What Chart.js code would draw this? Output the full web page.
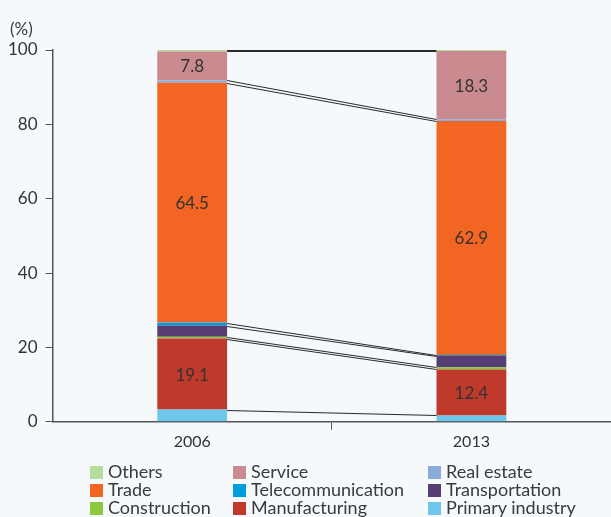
<!DOCTYPE html>
<html>
<head>
<meta charset="utf-8">
<script src="https://cdn.jsdelivr.net/npm/chart.js@4.4.1/dist/chart.umd.min.js"></script>
<style>
  html, body { margin: 0; padding: 0; background: #f5f9fc; }
  #wrap { position: relative; width: 611px; height: 517px; overflow: hidden; }
  #unit { position: absolute; left: 10px; top: 18px; font: 17px Lato, sans-serif; color: #3a3a3a; }
  .lg { position: absolute; font: 18px Lato, sans-serif; color: #3a3a3a; line-height: 18px; white-space: nowrap; }
  .lg span.sw { position: absolute; left: 0; top: 3px; width: 13px; height: 13px; }
  .lg span.tx { position: absolute; left: 18px; top: -1px; }
</style>
</head>
<body>
<div id="wrap">
  <canvas id="c" width="611" height="517"></canvas>
  <div id="unit">(%)</div>
</div>
<script>
// Share of employment by sector, 2006 vs 2013 (percent)
const years = ['2006', '2013'];
const sectors = ['Primary industry', 'Manufacturing', 'Construction', 'Transportation',
  'Telecommunication', 'Trade', 'Real estate', 'Service', 'Others'];
const primaryIndustry = [3.3, 1.7];
const manufacturing = [19.1, 12.4];
const construction = [0.5, 0.6];
const transportation = [3.0, 3.0];
const telecommunication = [0.8, 0.3];
const trade = [64.5, 62.9];
const realEstate = [0.6, 0.5];
const service = [7.8, 18.3];
const others = [0.4, 0.3];
const yTicks = [0, 20, 40, 60, 80, 100];

const seriesValues = [primaryIndustry, manufacturing, construction, transportation,
  telecommunication, trade, realEstate, service, others];
const colors = ['#6ec6ea', '#bf3a2b', '#8dc63f', '#563d74', '#009ddc',
  '#f26522', '#8aaad8', '#c98b8f', '#b7dd9c'];
const labelled = [false, true, false, false, false, true, false, true, false];

const datasets = sectors.map((name, i) => ({
  label: name,
  data: seriesValues[i],
  backgroundColor: colors[i],
  borderWidth: 0,
  barPercentage: 0.25,
  categoryPercentage: 1.0,
  stack: 's'
}));

// Thin connector lines joining every segment boundary from one bar to the next
const connectors = {
  id: 'connectors',
  afterDatasetsDraw(chart) {
    const ctx = chart.ctx;
    const y = chart.scales.y;
    const first = chart.getDatasetMeta(0).data;
    ctx.save();
    ctx.strokeStyle = '#2a2a2a';
    ctx.lineWidth = 1;
    for (let j = 0; j < years.length - 1; j++) {
      const x0 = first[j].x + first[j].width / 2;
      const x1 = first[j + 1].x - first[j + 1].width / 2;
      let c0 = 0, c1 = 0;
      for (let i = 0; i < seriesValues.length; i++) {
        c0 += seriesValues[i][j];
        c1 += seriesValues[i][j + 1];
        ctx.beginPath();
        ctx.moveTo(x0, Math.round(y.getPixelForValue(c0)) + 0.5);
        ctx.lineTo(x1, Math.round(y.getPixelForValue(c1)) + 0.5);
        ctx.stroke();
      }
    }
    ctx.restore();
  }
};

// Value labels inside the larger segments
const valueLabels = {
  id: 'valueLabels',
  afterDatasetsDraw(chart) {
    const ctx = chart.ctx;
    ctx.save();
    ctx.font = '17px Lato, sans-serif';
    ctx.fillStyle = '#333333';
    ctx.textAlign = 'center';
    ctx.textBaseline = 'middle';
    chart.data.datasets.forEach((ds, i) => {
      if (!labelled[i]) return;
      chart.getDatasetMeta(i).data.forEach((bar, k) => {
        const mid = (bar.y + bar.base) / 2;
        ctx.fillText(ds.data[k].toFixed(1), bar.x, mid + 1);
      });
    });
    ctx.restore();
  }
};

const axisColor = '#555555';
const chart = new Chart(document.getElementById('c'), {
  type: 'bar',
  data: { labels: years, datasets },
  options: {
    responsive: false,
    animation: false,
    layout: { padding: { top: 50, right: 0, bottom: 64, left: 0 } },
    plugins: { legend: { display: false }, tooltip: { enabled: false } },
    scales: {
      x: {
        stacked: true,
        grid: {
          drawOnChartArea: false,
          tickLength: 8,
          color: (c) => (c.index === 1 ? axisColor : 'rgba(0,0,0,0)')
        },
        border: { display: true, color: axisColor, width: 1.5 },
        ticks: { font: { family: 'Lato', size: 16 }, color: '#333', padding: 2 }
      },
      y: {
        stacked: true,
        min: 0,
        max: 100,
        afterBuildTicks(axis) { axis.ticks = yTicks.map(v => ({ value: v })); },
        grid: { drawOnChartArea: false, tickLength: 7, color: axisColor },
        border: { display: true, color: axisColor, width: 1.5 },
        ticks: { font: { family: 'Lato', size: 17 }, color: '#333', padding: 8 }
      }
    }
  },
  plugins: [connectors, valueLabels]
});

// Legend: three columns, listed from the top of the stack downwards
const wrap = document.getElementById('wrap');
const colX = [90, 233, 428];
const order = sectors.map((_, i) => sectors.length - 1 - i);
order.forEach((idx, n) => {
  const d = document.createElement('div');
  d.className = 'lg';
  d.style.left = colX[n % 3] + 'px';
  d.style.top = (463 + 18 * Math.floor(n / 3)) + 'px';
  d.innerHTML = '<span class="sw" style="background:' + colors[idx] + '"></span><span class="tx"></span>';
  d.querySelector('.tx').textContent = sectors[idx];
  wrap.appendChild(d);
});
</script>
</body>
</html>
